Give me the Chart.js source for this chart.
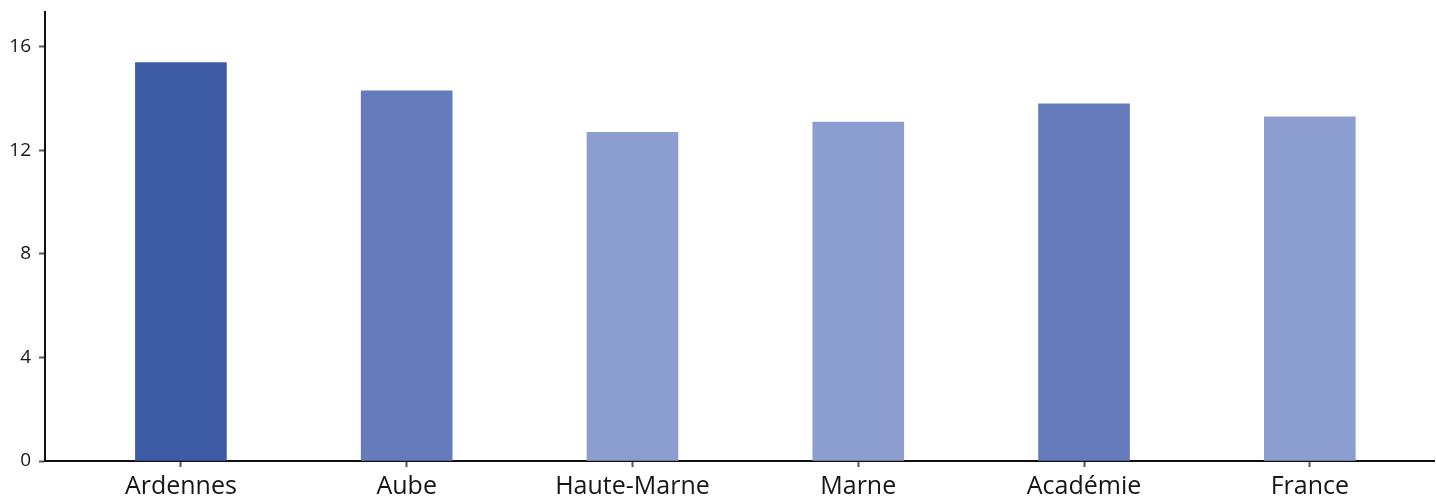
<!DOCTYPE html>
<html>
<head>
<meta charset="utf-8">
<script src="https://cdn.jsdelivr.net/npm/chart.js@4"></script>
<style>
  html, body { margin: 0; padding: 0; background: #fff; }
  #wrap { width: 1436px; height: 499px; }
</style>
</head>
<body>
<div id="wrap"><canvas id="bars"></canvas></div>
<script>
// valeurs
const categories = ['Ardennes', 'Aube', 'Haute-Marne', 'Marne', 'Académie', 'France'];
const values = [15.4, 14.3, 12.7, 13.1, 13.8, 13.3];
const barColors = ['#3d5aa4', '#667bbb', '#8c9ecf', '#8c9ecf', '#667bbb', '#8c9ecf'];
const yTicks = [0, 4, 8, 12, 16];

const points = categories.map((c, i) => ({ x: i, y: values[i] }));

let ctx = document.getElementById('bars');
let chart = new Chart(ctx, {
    type: 'bar',
    data: {
        datasets: [{
            data: points,
            backgroundColor: barColors,
            borderWidth: 0,
            barThickness: 91
        }]
    },
    options: {
        responsive: true,
        maintainAspectRatio: false,
        animation: false,
        layout: { padding: { top: 12, right: 2, left: 0, bottom: 0 } },
        plugins: {
            legend: { display: false },
            tooltip: { enabled: false }
        },
        scales: {
            x: {
                type: 'linear',
                offset: false,
                min: -0.602,
                max: 5.55,
                afterBuildTicks: (axis) => {
                    axis.ticks = categories.map((c, i) => ({ value: i }));
                },
                afterFit: (axis) => {
                    axis.height = 38;
                    axis.paddingLeft = 0;
                    axis.paddingRight = 0;
                },
                border: { display: true, color: '#111', width: 2 },
                grid: { display: true, offset: false, drawOnChartArea: false, drawTicks: true, tickLength: 6, tickColor: '#555', tickWidth: 2 },
                ticks: {
                    color: '#161616',
                    font: { family: 'Open Sans', size: 25 },
                    padding: 5,
                    maxRotation: 0,
                    autoSkip: false,
                    callback: (v) => categories[v]
                }
            },
            y: {
                min: 0,
                max: 17.35,
                afterBuildTicks: (axis) => {
                    axis.ticks = yTicks.map(v => ({ value: v }));
                },
                afterFit: (axis) => {
                    axis.width = 45;
                    axis.paddingTop = 0;
                    axis.paddingBottom = 0;
                },
                border: { display: true, color: '#111', width: 2 },
                grid: { display: true, drawOnChartArea: false, drawTicks: true, tickLength: 6, tickColor: '#555', tickWidth: 2 },
                ticks: {
                    color: '#161616',
                    font: { family: 'Open Sans', size: 19 },
                    padding: 8
                }
            }
        }
    }
});
</script>
</body>
</html>
